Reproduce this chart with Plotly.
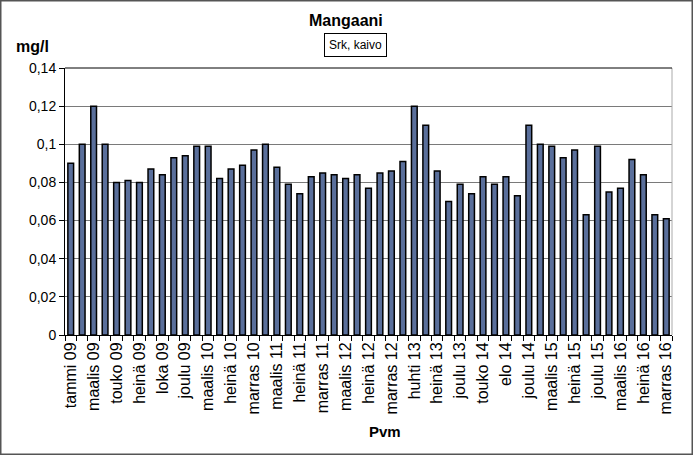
import plotly.graph_objects as go

dates = ["tammi 09", "helmi 09", "maalis 09", "huhti 09", "touko 09", "kesä 09", "heinä 09", "elo 09",
         "loka 09", "marras 09", "joulu 09", "tammi 10", "maalis 10", "touko 10", "heinä 10", "syys 10",
         "marras 10", "tammi 11", "maalis 11", "touko 11", "heinä 11", "syys 11", "marras 11", "tammi 12",
         "maalis 12", "touko 12", "heinä 12", "syys 12", "marras 12", "tammi 13", "huhti 13", "kesä 13",
         "heinä 13", "loka 13", "joulu 13", "maalis 14", "touko 14", "kesä 14", "elo 14", "loka 14",
         "joulu 14", "helmi 15", "maalis 15", "touko 15", "heinä 15", "syys 15", "joulu 15", "helmi 16",
         "maalis 16", "touko 16", "heinä 16", "syys 16", "marras 16"]
values = [0.090, 0.100, 0.120, 0.100, 0.080, 0.081, 0.080, 0.087,
          0.084, 0.093, 0.094, 0.099, 0.099, 0.082, 0.087, 0.089,
          0.097, 0.100, 0.088, 0.079, 0.074, 0.083, 0.085, 0.084,
          0.082, 0.084, 0.077, 0.085, 0.086, 0.091, 0.120, 0.110,
          0.086, 0.070, 0.079, 0.074, 0.083, 0.079, 0.083, 0.073,
          0.110, 0.100, 0.099, 0.093, 0.097, 0.063, 0.099, 0.075,
          0.077, 0.092, 0.084, 0.063, 0.061]
y_ticks = [0, 0.02, 0.04, 0.06, 0.08, 0.10, 0.12, 0.14]

idx = list(range(len(dates)))
label_idx = idx[::2]
label_txt = [dates[i] for i in label_idx]

NARROW = "Liberation Sans Narrow, Arial Narrow, Liberation Sans, Arial"
REG = "Liberation Sans, Arial"

fig = go.Figure(go.Bar(
    x=idx, y=values, width=0.5,
    marker=dict(color="#5a6f9b", line=dict(color="black", width=1.5)),
    showlegend=False,
))

L, R, T, B = 65, 21, 68, 120
W, H = 693, 455
pw, ph = W - L - R, H - T - B

fig.update_layout(
    width=W, height=H,
    margin=dict(l=L, r=R, t=T, b=B, autoexpand=False),
    paper_bgcolor="white", plot_bgcolor="white",
    separators=",.",
    bargap=0.5,
    xaxis=dict(
        range=[-0.5, len(dates) - 0.5], tickmode="array",
        tickvals=label_idx, ticktext=label_txt, tickangle=-90,
        ticks="", showgrid=False, zeroline=False,
        showline=True, linecolor="black", linewidth=1,
        tickfont=dict(family=REG, size=16, color="black"),
        minor=dict(ticks="outside", tick0=0.5, dtick=1, ticklen=5,
                   tickcolor="black", tickwidth=1, showgrid=False),
    ),
    yaxis=dict(
        range=[0, 0.14], tickmode="array", tickvals=y_ticks,
        showgrid=True, gridcolor="#7a7a7a", gridwidth=1,
        zeroline=False, showline=True, linecolor="black", linewidth=1,
        ticks="outside", ticklen=5, tickcolor="black",
        tickfont=dict(family=NARROW, size=14, color="black"),
    ),
    shapes=[
        dict(type="rect", xref="paper", yref="paper",
             x0=-L / pw, x1=1 + R / pw, y0=-B / ph, y1=1 + T / ph,
             line=dict(color="#555555", width=3)),
        dict(type="line", xref="paper", yref="paper", x0=1, x1=1, y0=0, y1=1,
             line=dict(color="#aaaaaa", width=1)),
        dict(type="line", xref="paper", yref="paper", x0=0, x1=1, y0=1, y1=1,
             line=dict(color="black", width=1)),
    ],
    annotations=[
        dict(text="<b>Mangaani</b>", xref="paper", yref="paper",
             x=(346 - L) / pw, y=(H - B - 20) / ph, showarrow=False,
             xanchor="center", yanchor="middle",
             font=dict(family=NARROW, size=16, color="black")),
        dict(text="Srk, kaivo", xref="paper", yref="paper",
             x=(355 - L) / pw, y=(H - B - 45) / ph, showarrow=False,
             xanchor="center", yanchor="middle",
             bordercolor="black", borderwidth=1, borderpad=4,
             font=dict(family=NARROW, size=12, color="black")),
        dict(text="<b>mg/l</b>", xref="paper", yref="paper",
             x=(32 - L) / pw, y=(H - B - 46) / ph, showarrow=False,
             xanchor="center", yanchor="middle",
             font=dict(family=NARROW, size=16, color="black")),
        dict(text="<b>Pvm</b>", xref="paper", yref="paper",
             x=(385 - L) / pw, y=(H - B - 431) / ph, showarrow=False,
             xanchor="center", yanchor="middle",
             font=dict(family=REG, size=15, color="black")),
    ],
)

fig.write_html("out.html")
